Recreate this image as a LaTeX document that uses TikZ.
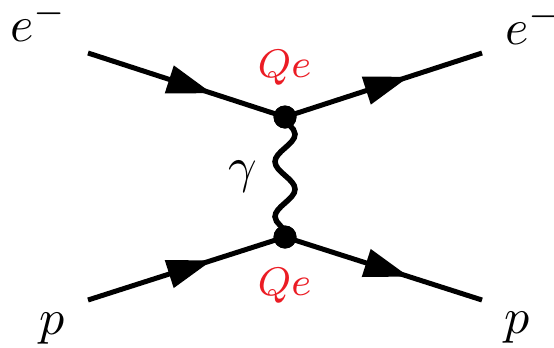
\documentclass[tikz,border=0pt]{standalone}
\usetikzlibrary{arrows.meta,decorations.markings,decorations.pathmorphing}
\definecolor{qered}{RGB}{235,28,36}
\begin{document}
\begin{tikzpicture}[x=0.2pt,y=-0.2pt,
  fermion/.style={line width=1pt, postaction={decorate},
    decoration={markings, mark=at position 0.63 with {\arrow{Triangle[length=9pt,width=5.6pt]}}}},
  photon/.style={line width=1.1pt, decorate,
    decoration={snake, segment length=11pt, amplitude=2pt}},
  vtx/.style={circle, fill=black, inner sep=0pt, minimum size=4.6pt},
  lbl/.style={inner sep=0pt, font=\fontsize{10}{12}\selectfont},
  coup/.style={inner sep=0pt, text=qered, font=\fontsize{8.4}{10}\selectfont}]
\useasboundingbox (0,0) rectangle (554,347);
\coordinate (i1) at (88,53);
\coordinate (o1) at (482,53);
\coordinate (i2) at (88,300);
\coordinate (o2) at (482,300);
\node[vtx] (v1) at (285,117) {};
\node[vtx] (v2) at (285,237) {};
\draw[photon] (v1.center) -- (v2.center);
\draw[fermion] (i1) -- (v1.center);
\draw[fermion] (v1.center) -- (o1);
\draw[fermion] (i2) -- (v2.center);
\draw[fermion] (v2.center) -- (o2);
\node[vtx] at (v1) {};
\node[vtx] at (v2) {};
\node[lbl, anchor=base west] (ein) at (9,41) {$e^-$};
\node[lbl, anchor=base west] (eout) at (504,44) {$e^-$};
\node[lbl, anchor=base west] (pin) at (38,334) {$p$};
\node[lbl, anchor=base west] (pout) at (503,333) {$p$};
\node[lbl, anchor=base west] (gam) at (227,182) {$\gamma$};
\node[coup, anchor=base] (q1) at (284.5,77) {$Qe$};
\node[coup, anchor=base] (q2) at (284.5,295) {$Qe$};
\end{tikzpicture}
\end{document}
